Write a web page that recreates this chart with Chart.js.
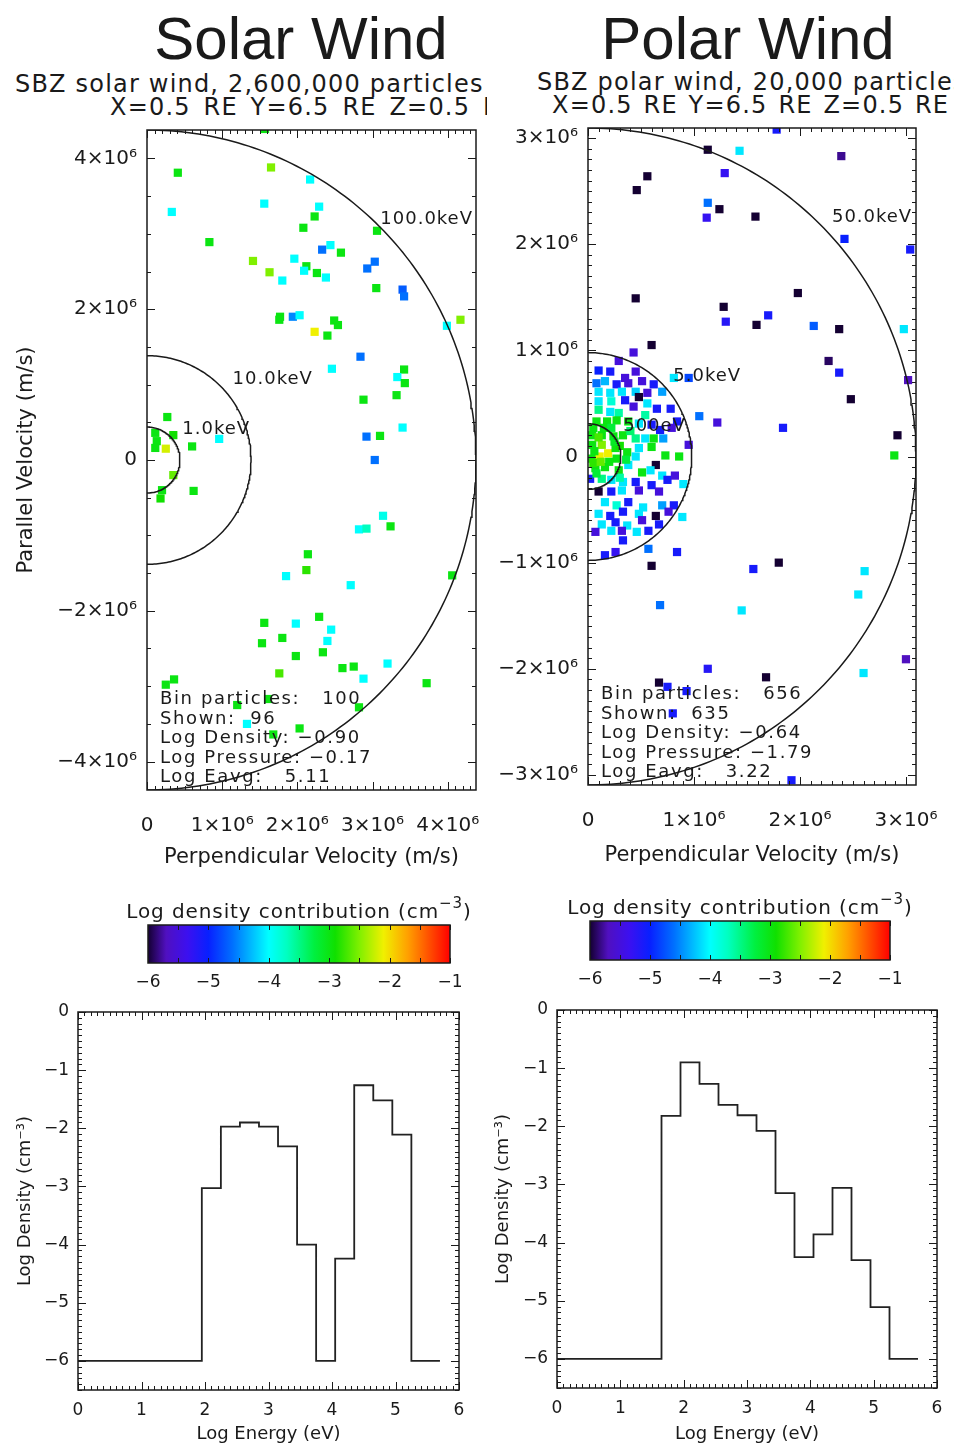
<!DOCTYPE html>
<html>
<head>
<meta charset="utf-8">
<title>Solar Wind / Polar Wind</title>
<script src="https://cdn.jsdelivr.net/npm/chart.js@4.4.1/dist/chart.umd.min.js"></script>
<style>
  body { margin: 0; width: 954px; height: 1445px; position: relative; overflow: hidden; background: #fff; color: #1a1a1a; font-family: "DejaVu Sans", sans-serif; }
  canvas { position: absolute; }
  .big { position: absolute; top: 9px; font: 60px/60px "Liberation Sans", sans-serif; text-align: center; }
  .sub { position: absolute; font-size: 24px; line-height: 24px; letter-spacing: 1.2px; white-space: nowrap; }
</style>
</head>
<body>
<div class="big" style="left:0;width:602px">Solar Wind</div>
<div class="big" style="left:500px;width:496px">Polar Wind</div>
<div style="position:absolute;left:0;top:0;width:487px;height:130px;overflow:hidden">
  <div class="sub" style="left:15px;top:72px">SBZ solar wind, 2,600,000 particles</div>
  <div class="sub" style="left:110px;top:95px;word-spacing:4px">X=0.5 RE Y=6.5 RE Z=0.5 RE</div>
</div>
<div class="sub" style="left:537px;top:70px">SBZ polar wind, 20,000 particles</div>
<div class="sub" style="left:552px;top:93px;word-spacing:2px">X=0.5 RE Y=6.5 RE Z=0.5 RE</div>

<canvas id="solarVel" width="490" height="750" style="left:0;top:120px"></canvas>
<canvas id="polarVel" width="474" height="750" style="left:480px;top:118px"></canvas>
<canvas id="solarBar" width="400" height="125" style="left:90px;top:880px"></canvas>
<canvas id="polarBar" width="420" height="125" style="left:530px;top:876px"></canvas>
<canvas id="solarSpec" width="480" height="445" style="left:0;top:1000px"></canvas>
<canvas id="polarSpec" width="474" height="445" style="left:480px;top:1000px"></canvas>

<script>
/* ---- solar wind bin: velocities in 10^6 m/s, colour = log density contribution ---- */
const solarVperp = [
  0.41, 1.65, 2.17, 0.33, 1.56, 2.29, 2.23, 2.08, 3.06, 0.83,
  2.44, 2.33, 2.58, 1.41, 1.96, 2.12, 2.09, 2.26, 1.63, 2.38,
  1.80, 2.93, 3.03, 3.05, 3.40, 3.42, 1.77, 1.76, 1.94, 2.03,
  2.49, 2.54, 2.23, 2.40, 3.99, 4.17, 2.84, 2.46, 3.42, 3.33,
  3.43, 3.32, 2.88, 3.40, 2.92, 3.10, 0.27, 0.96, 0.60, 0.35,
  1.57, 0.11, 0.13, 0.25, 0.11, 0.35, 0.62, 0.20, 0.18, 3.03,
  3.14, 3.24, 2.82, 2.92, 2.14, 2.12, 1.85, 2.71, 4.06, 1.56,
  1.98, 2.29, 2.45, 2.40, 1.80, 1.53, 2.34, 1.98, 1.76, 2.60,
  2.75, 3.20, 2.88, 3.72, 0.25, 0.36, 1.20, 1.33, 2.82, 2.03,
  1.68, 1.61
];
const solarVpar = [
  3.81, 3.88, 3.72, 3.29, 3.40, 3.36, 3.23, 3.08, 3.04, 2.89,
  2.85, 2.79, 2.75, 2.64, 2.67, 2.57, 2.51, 2.48, 2.49, 2.42,
  2.38, 2.54, 2.63, 2.28, 2.26, 2.17, 1.90, 1.86, 1.90, 1.92,
  1.85, 1.79, 1.70, 1.65, 1.78, 1.86, 1.37, 1.21, 1.20, 1.10,
  1.02, 0.86, 0.80, 0.43, 0.31, 0.32, 0.57, 0.28, 0.18, 0.33,
  4.39, 0.36, 0.25, 0.15, 0.16, -0.20, -0.41, -0.40, -0.51, 0.00,
  -0.74, -0.88, -0.92, -0.91, -1.25, -1.46, -1.54, -1.66, -1.53, -2.16,
  -2.17, -2.08, -2.25, -2.40, -2.36, -2.43, -2.55, -2.60, -2.83, -2.76,
  -2.74, -2.70, -2.90, -2.96, -2.98, -2.91, -3.25, -3.50, -3.28, -3.56,
  -3.64, -3.17
];
const solarLogN = [
  -3.0, -2.5, -4.0, -4.0, -4.0, -4.0, -3.0, -3.0, -3.0, -3.0,
  -4.0, -4.6, -3.0, -2.5, -4.0, -3.0, -4.0, -3.0, -2.5, -4.0,
  -4.0, -4.6, -4.6, -3.0, -4.7, -4.6, -3.0, -3.0, -4.5, -4.0,
  -3.0, -3.0, -2.1, -3.0, -4.0, -2.5, -4.6, -4.0, -3.0, -4.0,
  -3.0, -3.0, -3.0, -4.0, -4.6, -3.0, -3.0, -4.0, -3.0, -2.9,
  -3.0, -3.0, -3.0, -2.2, -3.0, -2.6, -3.0, -3.0, -2.9, -4.6,
  -3.9, -3.0, -4.0, -3.7, -3.0, -2.8, -4.0, -4.0, -3.0, -3.0,
  -4.0, -3.0, -4.0, -4.0, -3.0, -3.0, -3.0, -3.0, -2.7, -3.0,
  -3.0, -4.0, -4.0, -3.0, -3.0, -3.0, -3.0, -4.0, -3.0, -3.0,
  -3.0, -3.0
];
const solarContourKeV = [1, 10, 100];
const solarStats = ['Bin particles:   100', 'Shown:  96', 'Log Density: −0.90', 'Log Pressure: −0.17', 'Log Eavg:   5.11'];

/* ---- polar wind bin ---- */
const polarVperp = [
  1.78, 1.13, 1.43, 2.39, 1.29, 0.56, 0.46, 1.13, 1.24, 1.12,
  1.58, 2.42, 3.04, 0.45, 1.98, 1.28, 1.30, 1.70, 1.59, 2.13,
  2.37, 2.98, 0.60, 2.27, 2.37, 3.02, 2.48, 1.05, 1.22, 1.84,
  2.92, 2.89, 0.60, 1.56, 1.80, 2.61, 2.55, 0.68, 1.45, 3.00,
  1.13, 0.67, 1.68, 2.60, 0.75, 0.93, 0.80, 1.92, 0.84, 0.57,
  0.16, 0.26,
  0.43, 0.29, 0.10, 0.21, 0.45, 0.35, 0.08, 0.16, 0.27, 0.38,
  0.51, 0.62, 0.81, 0.95, 0.10, 0.21, 0.32, 0.45, 0.56, 0.70,
  0.48, 0.10, 0.22, 0.35, 0.43, 0.56, 0.65, 0.78, 0.10, 0.21,
  0.29, 0.54, 0.84, 0.08, 0.18, 0.27, 0.38, 0.48, 0.60, 0.68,
  0.79, 0.04, 0.13, 0.24, 0.33, 0.45, 0.54, 0.62, 0.71, 0.95,
  0.04, 0.13, 0.19, 0.26, 0.37, 0.48, 0.60, 0.73, 0.86, 0.04,
  0.11, 0.27, 0.45, 0.64, 0.07, 0.16, 0.29, 0.38, 0.51, 0.59,
  0.70, 0.02, 0.13, 0.22, 0.33, 0.45, 0.60, 0.75, 0.82, 0.90,
  0.10, 0.22, 0.32, 0.48, 0.67, 0.38, 0.16, 0.27, 0.52, 0.70,
  0.81, 0.10, 0.21, 0.33, 0.48, 0.64, 0.76, 0.89, 0.13, 0.26,
  0.37, 0.51, 0.67, 0.07, 0.22, 0.32, 0.46, 0.57, 0.33, 0.05,
  0.15, 0.22, 0.06, 0.20, 0.30, 0.05, 0.12, 0.25, 0.36, 0.10,
  0.08, 0.40, 0.30
];
const polarVpar = [
  3.08, 2.89, 2.88, 2.83, 2.67, 2.64, 2.51, 2.39, 2.33, 2.25,
  2.26, 2.05, 1.95, 1.49, 1.54, 1.41, 1.27, 1.33, 1.24, 1.23,
  1.20, 1.20, 1.05, 0.90, 0.79, 0.72, 0.54, 0.38, 0.32, 0.27,
  0.20, 0.01, -1.03, -1.06, -1.00, -1.08, -1.30, -1.40, -1.45, -1.91,
  -2.00, -2.13, -2.08, -2.04, -2.17, -2.21, -2.42, -3.05, -0.90, -0.87,
  -0.93, -0.90,
  0.98, 0.90, 0.81, 0.80, 0.80, 0.74, 0.69, 0.71, 0.68, 0.69,
  0.71, 0.68, 0.74, 0.74, 0.61, 0.60, 0.61, 0.61, 0.60, 0.61,
  0.56, 0.52, 0.52, 0.53, 0.47, 0.50, 0.45, 0.45, 0.44, 0.42,
  0.41, 0.39, 0.33, 0.33, 0.33, 0.34, 0.33, 0.31, 0.30, 0.25,
  0.27, 0.20, 0.20, 0.19, 0.20, 0.17, 0.17, 0.17, 0.17, 0.11,
  0.11, 0.11, 0.03, 0.08, 0.04, 0.08, 0.09, 0.01, 0.00, -0.02,
  0.00, -0.02, 0.00, -0.08, -0.11, -0.10, -0.13, -0.08, -0.15, -0.13,
  -0.18, -0.21, -0.21, -0.22, -0.24, -0.24, -0.27, -0.22, -0.18, -0.26,
  -0.33, -0.33, -0.32, -0.32, -0.33, -0.43, -0.43, -0.46, -0.48, -0.46,
  -0.46, -0.54, -0.56, -0.52, -0.54, -0.56, -0.52, -0.57, -0.64, -0.62,
  -0.65, -0.60, -0.64, -0.71, -0.70, -0.70, -0.71, -0.70, -0.79, 0.27,
  0.27, 0.27, 0.05, -0.05, 0.10, -0.06, -0.05, 0.14, -0.03, 0.18,
  -0.16, 0.24, -0.20
];
const polarLogN = [
  -5.1, -6.0, -4.1, -5.8, -5.3, -6.0, -6.0, -4.6, -6.0, -5.3,
  -6.0, -5.0, -5.1, -6.0, -6.0, -6.0, -5.2, -5.1, -6.0, -4.7,
  -6.0, -4.1, -6.0, -5.9, -5.1, -5.7, -6.0, -4.6, -5.5, -5.1,
  -6.0, -3.0, -6.0, -5.1, -6.0, -4.1, -4.1, -4.6, -4.1, -5.7,
  -5.2, -6.0, -6.0, -4.1, -5.1, -5.1, -5.1, -5.1, -5.1, -4.6,
  -5.1, -5.3,
  -5.5, -5.5, -5.0, -5.1, -5.5, -5.5, -4.6, -4.3, -5.1, -5.5,
  -5.5, -5.1, -4.1, -4.8, -4.1, -4.1, -4.1, -4.2, -5.5, -4.4,
  -6.0, -4.1, -3.8, -5.1, -5.5, -4.1, -5.1, -5.1, -3.5, -4.1,
  -3.6, -3.6, -5.1, -3.0, -3.0, -3.0, -3.0, -4.1, -5.1, -5.1,
  -5.5, -3.0, -3.0, -3.0, -3.0, -3.5, -4.1, -3.0, -4.4, -5.5,
  -3.0, -2.5, -2.1, -3.0, -3.0, -4.1, -3.0, -3.0, -3.0, -3.0,
  -2.1, -3.0, -4.1, -6.0, -3.0, -3.0, -3.0, -4.1, -3.0, -4.1,
  -4.1, -5.1, -3.5, -4.1, -4.1, -5.1, -5.1, -5.1, -5.5, -4.1,
  -6.0, -5.1, -4.1, -5.5, -5.5, -5.1, -4.1, -3.8, -4.1, -4.4,
  -5.1, -4.1, -5.1, -5.1, -4.1, -6.0, -5.5, -4.1, -4.1, -5.1,
  -4.1, -5.5, -5.1, -5.5, -4.1, -5.5, -4.1, -5.1, -5.1, -3.0,
  -3.0, -3.2, -3.0, -3.0, -2.9, -2.8, -2.6, -3.1, -3.2, -2.7,
  -3.2, -3.4, -3.6
];
const polarContourKeV = [0.5, 5, 50];
const polarStats = ['Bin particles:   656', 'Shown:  635', 'Log Density: −0.64', 'Log Pressure: −1.79', 'Log Eavg:   3.22'];

/* ---- energy spectra: bin edges (log eV) and log density per bin ---- */
const solarSpecEdges = [0, 1.95, 2.25, 2.55, 2.85, 3.15, 3.45, 3.75, 4.05, 4.35, 4.65, 4.95, 5.25, 5.7];
const solarSpecLogN = [-6, -3.03, -1.97, -1.90, -1.97, -2.31, -4.0, -6, -4.24, -1.26, -1.52, -2.11, -6];
const polarSpecEdges = [0, 1.65, 1.95, 2.25, 2.55, 2.85, 3.15, 3.45, 3.75, 4.05, 4.35, 4.65, 4.95, 5.25, 5.7];
const polarSpecLogN = [-6, -1.82, -0.90, -1.27, -1.63, -1.81, -2.08, -3.15, -4.25, -3.86, -3.06, -4.30, -5.11, -6];

/* ---- tick values ---- */
const solarVperpTicks = [0, 1, 2, 3, 4];
const solarVparTicks = [-4, -2, 0, 2, 4];
const polarVperpTicks = [0, 1, 2, 3];
const polarVparTicks = [-3, -2, -1, 0, 1, 2, 3];
const colorbarTicks = [-6, -5, -4, -3, -2, -1];
const energyTicks = [0, 1, 2, 3, 4, 5, 6];
const densityTicks = [-6, -5, -4, -3, -2, -1, 0];

/* rainbow colour table, log density -> rgb */
const cmapStops = [
  [-6.0, [20, 0, 50]], [-5.7, [80, 16, 192]], [-5.35, [60, 16, 240]], [-5.0, [8, 32, 255]],
  [-4.6, [0, 112, 255]], [-4.0, [0, 255, 255]], [-3.7, [0, 255, 192]], [-3.25, [0, 240, 64]],
  [-2.9, [16, 224, 0]], [-2.5, [128, 240, 0]], [-2.1, [240, 240, 0]], [-1.7, [255, 160, 0]],
  [-1.0, [255, 0, 0]]
];
function cmap(v) {
  if (v <= cmapStops[0][0]) return `rgb(${cmapStops[0][1]})`;
  for (let i = 1; i < cmapStops.length; i++) {
    const [v1, c1] = cmapStops[i];
    if (v <= v1) {
      const [v0, c0] = cmapStops[i - 1];
      const t = (v - v0) / (v1 - v0);
      return `rgb(${c0.map((c, k) => Math.round(c + t * (c1[k] - c)))})`;
    }
  }
  return `rgb(${cmapStops[cmapStops.length - 1][1]})`;
}

const PROTON_KG = 1.6726e-27, EV_J = 1.602e-19;
const speedMm = keV => Math.sqrt(2 * keV * 1e3 * EV_J / PROTON_KG) / 1e6;
const keVLabel = e => e >= 1 ? e.toFixed(1) + 'keV' : Math.round(e * 1000) + 'eV';
const minus = v => (v < 0 ? '−' : '') + Math.abs(v);
const velLabel = v => v === 0 ? '0' : minus(v) + '×10⁶';
const fixedTicks = vals => s => { s.ticks = vals.map(v => ({value: v})); };
// fixed axis box size; label overhang must not shrink the plot box
const fixWidth = w => s => { s.width = w; s.paddingTop = s.paddingBottom = s.paddingLeft = s.paddingRight = 0; };
const fixHeight = h => s => { s.height = h; s.paddingTop = s.paddingBottom = s.paddingLeft = s.paddingRight = 0; };

Chart.defaults.font.family = '"DejaVu Sans", sans-serif';
Chart.defaults.color = '#1a1a1a';

/* IDL style box with inward major/minor ticks on all four sides */
const frameTicks = {
  id: 'frameTicks',
  afterDraw(chart, args, o) {
    const {ctx, chartArea: a, scales} = chart;
    ctx.save();
    ctx.strokeStyle = '#1a1a1a';
    ctx.lineWidth = 1.5;
    ctx.strokeRect(a.left, a.top, a.right - a.left, a.bottom - a.top);
    ctx.lineWidth = 1;
    ctx.beginPath();
    ['x', 'y'].forEach(id => {
      const s = scales[id], t = o[id];
      if (!t) return;
      const n0 = Math.ceil(s.min / t.minor - 1e-9), n1 = Math.floor(s.max / t.minor + 1e-9);
      for (let k = n0; k <= n1; k++) {
        const v = k * t.minor, r = v / t.major;
        const len = Math.abs(r - Math.round(r)) < 1e-6 ? o.majorLen : o.minorLen;
        const p = Math.round(s.getPixelForValue(v)) + 0.5;
        if (id === 'x') {
          ctx.moveTo(p, a.bottom); ctx.lineTo(p, a.bottom - len);
          ctx.moveTo(p, a.top); ctx.lineTo(p, a.top + len);
        } else {
          ctx.moveTo(a.left, p); ctx.lineTo(a.left + len, p);
          ctx.moveTo(a.right, p); ctx.lineTo(a.right - len, p);
        }
      }
    });
    ctx.stroke();
    ctx.restore();
  }
};

/* energy contour labels and bin statistics */
const panelText = {
  id: 'panelText',
  afterDraw(chart, args, o) {
    const {ctx, chartArea: a, scales: {x, y}} = chart;
    ctx.save();
    ctx.fillStyle = '#1a1a1a';
    ctx.font = '18px "DejaVu Sans"';
    ctx.letterSpacing = '1px';
    ctx.textBaseline = 'middle';
    o.contours.forEach(e => {
      const r = speedMm(e) * Math.SQRT1_2;
      const label = keVLabel(e), w = ctx.measureText(label).width;
      ctx.fillText(label, Math.min(x.getPixelForValue(r) + 12, a.right - w - 3), y.getPixelForValue(r) - 7);
    });
    ctx.textBaseline = 'alphabetic';
    ctx.letterSpacing = '1.6px';
    o.stats.forEach((s, i) => ctx.fillText(s, a.left + 13, a.bottom - 8 - (o.stats.length - 1 - i) * 19.5));
    ctx.restore();
  }
};

const colorbarFill = {
  id: 'colorbarFill',
  beforeDatasetsDraw(chart) {
    const {ctx, chartArea: a, scales: {x}} = chart;
    const g = ctx.createLinearGradient(a.left, 0, a.right, 0);
    cmapStops.forEach(([v, c]) => g.addColorStop((x.getPixelForValue(v) - a.left) / (a.right - a.left), `rgb(${c})`));
    ctx.save();
    ctx.fillStyle = g;
    ctx.fillRect(a.left, a.top, a.right - a.left, a.bottom - a.top);
    ctx.restore();
  }
};

/* colour bar caption with a raised exponent, centred over the bar */
const colorbarTitle = {
  id: 'colorbarTitle',
  afterDraw(chart) {
    const {ctx, chartArea: a} = chart;
    const parts = [['Log density contribution (cm', '20px "DejaVu Sans"', 0], ['−3', '15px "DejaVu Sans"', -10], [')', '20px "DejaVu Sans"', 0]];
    ctx.save();
    ctx.fillStyle = '#1a1a1a';
    ctx.letterSpacing = '0.9px';
    let w = 0;
    parts.forEach(([t, f]) => { ctx.font = f; w += ctx.measureText(t).width; });
    let x = (a.left + a.right) / 2 - w / 2;
    parts.forEach(([t, f, dy]) => { ctx.font = f; ctx.fillText(t, x, a.top - 7 + dy); x += ctx.measureText(t).width; });
    ctx.restore();
  }
};

function velocityChart(id, o) {
  const arc = keV => {
    const r = speedMm(keV), pts = [];
    for (let d = -90; d <= 90; d++) {
      const t = d * Math.PI / 180;
      pts.push({x: r * Math.cos(t), y: r * Math.sin(t)});
    }
    return pts;
  };
  const vmax = speedMm(o.contours[o.contours.length - 1]);
  return new Chart(document.getElementById(id), {
    type: 'scatter',
    data: {
      datasets: [
        ...o.contours.map(e => ({data: arc(e), showLine: true, pointRadius: 0, borderColor: '#1a1a1a', borderWidth: 1.5, clip: 0})),
        {
          data: o.vperp.map((v, i) => ({x: v, y: o.vpar[i]})),
          pointStyle: 'rect', pointRadius: 5.8, pointBorderWidth: 0,
          pointBackgroundColor: o.logN.map(cmap), clip: 0
        }
      ]
    },
    options: {
      responsive: false, animation: false, events: [],
      layout: {padding: o.pad},
      plugins: {
        legend: {display: false}, tooltip: {enabled: false},
        frameTicks: {x: {major: 1, minor: 0.1}, y: o.yMarks, majorLen: 8, minorLen: 4},
        panelText: {contours: o.contours, stats: o.stats}
      },
      scales: {
        x: {
          type: 'linear', min: 0, max: vmax,
          grid: {display: false, drawTicks: false}, border: {display: false},
          afterBuildTicks: fixedTicks(o.xTicks),
          afterFit: fixHeight(o.xAxisH),
          ticks: {callback: velLabel, font: {size: 20}, padding: 24, maxRotation: 0, autoSkip: false},
          title: {display: true, text: 'Perpendicular Velocity (m/s)', font: {size: 21}, padding: {top: o.xTitlePad, bottom: 0}}
        },
        y: {
          type: 'linear', min: -vmax, max: vmax,
          grid: {display: false, drawTicks: false}, border: {display: false},
          afterBuildTicks: fixedTicks(o.yTicks),
          afterFit: fixWidth(o.yAxisW),
          ticks: {callback: velLabel, font: {size: 20}, padding: 10, autoSkip: false},
          title: {display: !!o.yTitle, text: o.yTitle || '', font: {size: 21}, padding: {top: o.yTitlePad || 0, bottom: 0}}
        }
      }
    },
    plugins: [frameTicks, panelText]
  });
}

function colorbarChart(id, o) {
  return new Chart(document.getElementById(id), {
    type: 'scatter',
    data: {datasets: []},
    options: {
      responsive: false, animation: false, events: [],
      layout: {padding: o.pad},
      plugins: {
        legend: {display: false}, tooltip: {enabled: false},
        frameTicks: {x: {major: 1, minor: 0.5}, majorLen: 5, minorLen: 5}
      },
      scales: {
        x: {
          type: 'linear', min: -6, max: -1,
          grid: {display: false, drawTicks: false}, border: {display: false},
          afterBuildTicks: fixedTicks(colorbarTicks),
          afterFit: fixHeight(o.xAxisH),
          ticks: {callback: minus, font: {size: 17}, padding: 9, maxRotation: 0, autoSkip: false}
        },
        y: {display: false, min: 0, max: 1}
      }
    },
    plugins: [colorbarFill, frameTicks, colorbarTitle]
  });
}

function spectrumChart(id, edges, logN, o) {
  const pts = edges.map((e, i) => ({x: e, y: logN[Math.min(i, logN.length - 1)]}));
  return new Chart(document.getElementById(id), {
    type: 'scatter',
    data: {datasets: [{data: pts, showLine: true, stepped: 'before', pointRadius: 0, borderColor: '#222', borderWidth: 1.8}]},
    options: {
      responsive: false, animation: false, events: [],
      layout: {padding: o.pad},
      plugins: {
        legend: {display: false}, tooltip: {enabled: false},
        frameTicks: {x: {major: 1, minor: 0.1}, y: {major: 1, minor: 0.1}, majorLen: 8, minorLen: 4}
      },
      scales: {
        x: {
          type: 'linear', min: 0, max: 6,
          grid: {display: false, drawTicks: false}, border: {display: false},
          afterBuildTicks: fixedTicks(energyTicks),
          afterFit: fixHeight(o.xAxisH),
          ticks: {callback: minus, font: {size: 17}, padding: 10, maxRotation: 0, autoSkip: false},
          title: {display: true, text: 'Log Energy (eV)', font: {size: 18}, padding: {top: o.xTitlePad, bottom: 0}}
        },
        y: {
          type: 'linear', min: -6.5, max: 0,
          grid: {display: false, drawTicks: false}, border: {display: false},
          afterBuildTicks: fixedTicks(densityTicks),
          afterFit: fixWidth(o.yAxisW),
          ticks: {callback: minus, font: {size: 17}, padding: 9, autoSkip: false},
          title: {display: true, text: 'Log Density (cm⁻³)', font: {size: 18}, padding: {top: o.yTitlePad, bottom: 0}}
        }
      }
    },
    plugins: [frameTicks]
  });
}

velocityChart('solarVel', {
  vperp: solarVperp, vpar: solarVpar, logN: solarLogN, contours: solarContourKeV, stats: solarStats,
  xTicks: solarVperpTicks, yTicks: solarVparTicks, yMarks: {major: 2, minor: 0.5},
  pad: {top: 10, right: 14}, yAxisW: 147, xAxisH: 80, xTitlePad: 8,
  yTitle: 'Parallel Velocity (m/s)', yTitlePad: 14
});
velocityChart('polarVel', {
  vperp: polarVperp, vpar: polarVpar, logN: polarLogN, contours: polarContourKeV, stats: polarStats,
  xTicks: polarVperpTicks, yTicks: polarVparTicks, yMarks: {major: 1, minor: 0.1},
  pad: {top: 10, right: 38}, yAxisW: 108, xAxisH: 83, xTitlePad: 12
});
colorbarChart('solarBar', {pad: {top: 45, left: 58, right: 40}, xAxisH: 42});
colorbarChart('polarBar', {pad: {top: 45, left: 60, right: 60}, xAxisH: 41});
spectrumChart('solarSpec', solarSpecEdges, solarSpecLogN, {pad: {top: 12, right: 21}, yAxisW: 78, xAxisH: 55, xTitlePad: 2, yTitlePad: 15});
spectrumChart('polarSpec', polarSpecEdges, polarSpecLogN, {pad: {top: 10, right: 17}, yAxisW: 77, xAxisH: 57, xTitlePad: 6, yTitlePad: 13});
</script>
</body>
</html>
